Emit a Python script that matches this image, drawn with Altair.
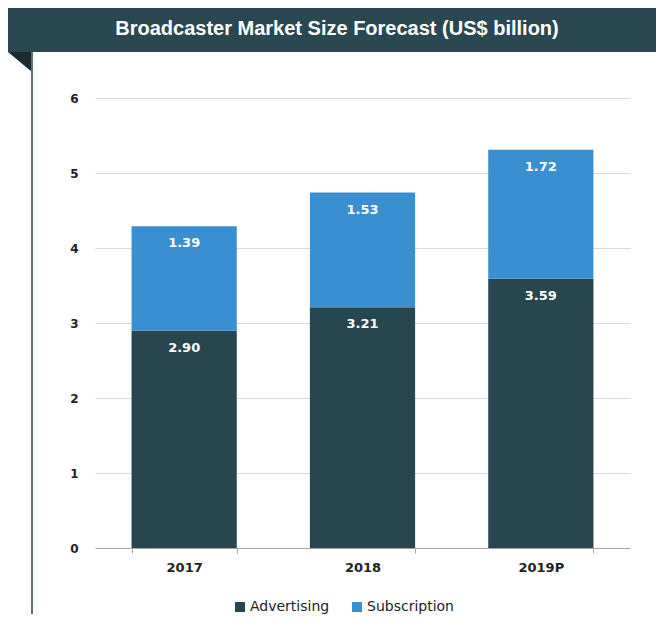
import altair as alt
import pandas as pd

years = ["2017", "2018", "2019P"]
advertising = [2.90, 3.21, 3.59]
subscription = [1.39, 1.53, 1.72]
series_names = ["Advertising", "Subscription"]
series_colors = ["#27464f", "#3a8fd1"]
y_ticks = [0, 1, 2, 3, 4, 5, 6]
title_text = "Broadcaster Market Size Forecast (US$ billion)"

rows = []
for yr, a, s in zip(years, advertising, subscription):
    rows.append({"year": yr, "series": "Advertising", "value": a, "start": 0.0, "end": a})
    rows.append({"year": yr, "series": "Subscription", "value": s, "start": a, "end": a + s})
df = pd.DataFrame(rows)

FONT = "DejaVu Sans"

x_enc = alt.X(
    "year:N",
    sort=years,
    scale=alt.Scale(paddingInner=0.41, paddingOuter=0.205),
    axis=alt.Axis(
        title=None, labelAngle=0, grid=False, domainColor="#a6a6a6", tickColor="#a6a6a6",
        tickSize=5, tickBand="extent", labelPadding=8, labelFont=FONT, labelFontSize=13,
        labelFontWeight="bold", labelColor="#222222",
    ),
)
y_enc = alt.Y(
    "start:Q",
    scale=alt.Scale(domain=[0, 6], nice=False),
    axis=alt.Axis(
        title=None, values=y_ticks, format="d", domain=False, ticks=False, grid=True,
        gridColor="#d9d9d9", labelPadding=17, labelFont=FONT, labelFontSize=12,
        labelFontWeight="bold", labelColor="#222222",
    ),
)

bars = alt.Chart(df).mark_bar().encode(
    x=x_enc,
    y=y_enc,
    y2="end:Q",
    color=alt.Color(
        "series:N",
        scale=alt.Scale(domain=series_names, range=series_colors),
        legend=alt.Legend(
            orient="none", legendX=138, legendY=502, direction="horizontal", title=None,
            symbolType="square", symbolSize=100, symbolStrokeWidth=0, labelFont=FONT,
            labelFontSize=14, labelColor="#222222", labelOffset=3, columnPadding=20,
        ),
    ),
    order=alt.Order("start:Q"),
)

labels = alt.Chart(df).mark_text(
    dy=17, color="white", font=FONT, fontSize=13, fontWeight="bold"
).encode(
    x=alt.X("year:N", sort=years),
    y=alt.Y("end:Q"),
    text=alt.Text("value:Q", format=".2f"),
)

dummy = pd.DataFrame({"a": [0]})
banner = alt.Chart(dummy).mark_rect(color="#2a4851").encode(
    x=alt.value(-88), x2=alt.value(570), y=alt.value(-91), y2=alt.value(-46)
)
fold = alt.Chart(dummy).mark_point(
    shape="M -1 -0.833 L 1 -0.833 L 1 0.833 Z", size=576, filled=True, opacity=1,
    color="#1a2b31", strokeWidth=0,
).encode(x=alt.value(-75), y=alt.value(-36))
border = alt.Chart(dummy).mark_rule(color="#5f6f76", strokeWidth=2).encode(
    x=alt.value(-63), y=alt.value(-46), y2=alt.value(520)
)
title = alt.Chart(dummy).mark_text(
    color="white", font="Liberation Sans", fontSize=20, fontWeight="bold",
    align="center", baseline="middle",
).encode(x=alt.value(242), y=alt.value(-69), text=alt.value(title_text))

chart = alt.layer(banner, fold, border, title, bars, labels).properties(
    width=535,
    height=450,
    autosize=alt.AutoSizeParams(type="none"),
    padding={"left": 87, "top": 90, "right": 26, "bottom": 66},
).configure_view(stroke=None)

chart.save("out.html", embed_options={"renderer": "svg", "actions": False})
